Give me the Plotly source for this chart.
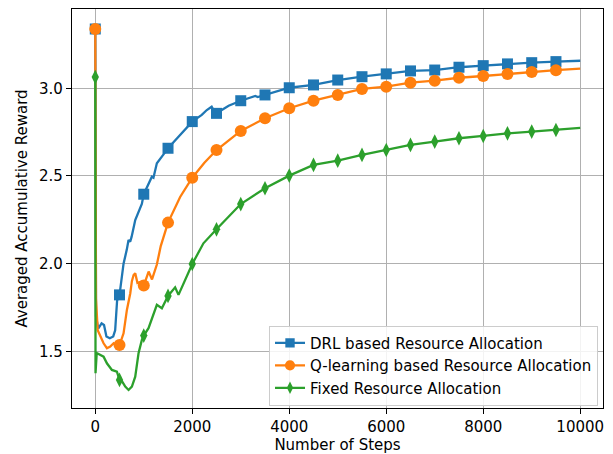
import plotly.graph_objects as go

# ---------------- data ----------------
drl_steps = [0, 15, 60, 130, 180, 230, 300, 370, 410, 450, 500, 583, 650, 686, 720, 750,
             824, 900, 960, 1000, 1100, 1167, 1200, 1270, 1400, 1500, 1716, 2000, 2196,
             2300, 2400, 2450, 2500, 2750, 3000, 3300, 3350, 3500, 4000, 4500, 5000, 5500,
             6000, 6500, 7000, 7500, 8000, 8500, 9000, 9500, 10000]
drl_vals = [3.338, 1.70, 1.63, 1.66, 1.65, 1.585, 1.575, 1.585, 1.62, 1.79, 1.822, 2.00, 2.08,
            2.135, 2.125, 2.154, 2.249, 2.306, 2.34, 2.396, 2.46, 2.496, 2.49, 2.572, 2.62,
            2.658, 2.724, 2.810, 2.848, 2.876, 2.895, 2.87, 2.857, 2.90, 2.929, 2.956, 2.95,
            2.962, 3.003, 3.019, 3.047, 3.066, 3.082, 3.099, 3.104, 3.120, 3.129, 3.139,
            3.146, 3.152, 3.157]

q_steps = [0, 15, 50, 103, 171, 240, 309, 377, 446, 500, 583, 652, 721, 755, 790, 824, 870,
           930, 1000, 1100, 1170, 1270, 1350, 1500, 1750, 2000, 2250, 2500, 3000, 3500,
           4000, 4500, 5000, 5500, 6000, 6500, 7000, 7500, 8000, 8500, 9000, 9500, 10000]
q_vals = [3.338, 1.80, 1.62, 1.584, 1.546, 1.518, 1.527, 1.546, 1.527, 1.536, 1.603, 1.736,
          1.83, 1.90, 1.935, 1.945, 1.89, 1.895, 1.875, 1.955, 1.91, 1.995, 2.10, 2.234,
          2.38, 2.490, 2.575, 2.648, 2.757, 2.829, 2.886, 2.929, 2.962, 2.996, 3.009, 3.032,
          3.043, 3.060, 3.070, 3.082, 3.093, 3.103, 3.112]

fixed_steps = [0, 5, 30, 103, 171, 240, 343, 446, 500, 550, 618, 686, 755, 824, 892, 961,
               1000, 1098, 1270, 1373, 1500, 1647, 1716, 2000, 2230, 2500, 2780, 3000, 3500,
               4000, 4500, 5000, 5500, 6000, 6500, 7000, 7500, 8000, 8500, 9000, 9500, 10000]
fixed_vals = [3.064, 1.375, 1.49, 1.479, 1.47, 1.432, 1.394, 1.384, 1.337, 1.33, 1.299, 1.28,
              1.299, 1.356, 1.489, 1.565, 1.59, 1.632, 1.765, 1.746, 1.816, 1.865, 1.822,
              1.998, 2.116, 2.196, 2.278, 2.34, 2.430, 2.502, 2.563, 2.587, 2.620, 2.648,
              2.677, 2.696, 2.715, 2.728, 2.743, 2.753, 2.762, 2.774]

marker_steps = list(range(0, 10000, 500))

x_ticks = [0, 2000, 4000, 6000, 8000, 10000]
x_tick_labels = ["0", "2000", "4000", "6000", "8000", "10000"]
y_ticks = [1.5, 2.0, 2.5, 3.0]
y_tick_labels = ["1.5", "2.0", "2.5", "3.0"]

series = [
    ("DRL based Resource Allocation", drl_steps, drl_vals, "#1f77b4", "square", 11),
    ("Q-learning based Resource Allocation", q_steps, q_vals, "#ff7f0e", "circle", 12),
    ("Fixed Resource Allocation", fixed_steps, fixed_vals, "#2ca02c", "diamond-tall", 10.5),
]

FONT = "DejaVu Sans, Verdana, sans-serif"
FS = 15
fig = go.Figure()

for name, xs, ys, color, sym, size in series:
    fig.add_trace(go.Scatter(x=xs, y=ys, mode="lines", line=dict(color=color, width=2.3),
                             showlegend=False, hoverinfo="skip"))
    mx = [s for s in xs if s in marker_steps]
    my = [v for s, v in zip(xs, ys) if s in marker_steps]
    fig.add_trace(go.Scatter(x=mx, y=my, mode="markers",
                             marker=dict(color=color, symbol=sym, size=size, line=dict(width=0)),
                             showlegend=False))
    fig.add_trace(go.Scatter(x=[None], y=[None], mode="lines+markers", name=name,
                             line=dict(color=color, width=2.3),
                             marker=dict(color=color, symbol=sym, size=size * 0.85)))

axis_common = dict(showline=True, linecolor="black", linewidth=1.2, mirror=True,
                   ticks="outside", ticklen=5, tickwidth=1.2, tickcolor="black",
                   showgrid=True, gridcolor="#b0b0b0", gridwidth=1.1, zeroline=False,
                   automargin=False,
                   tickfont=dict(family=FONT, size=FS, color="black"))

fig.update_xaxes(range=[-480, 10470], tickvals=x_ticks, ticktext=x_tick_labels,
                 title=dict(text="Number of Steps", font=dict(family=FONT, size=FS, color="black"),
                            standoff=2),
                 **axis_common)
fig.update_yaxes(range=[1.177, 3.452], tickvals=y_ticks, ticktext=y_tick_labels,
                 title=dict(text="Averaged Accumulative Reward",
                            font=dict(family=FONT, size=FS, color="black"), standoff=7),
                 **axis_common)

fig.update_layout(
    width=613, height=454,
    margin=dict(l=72, r=10, t=9, b=46),
    paper_bgcolor="white", plot_bgcolor="white",
    font=dict(family=FONT, size=FS, color="black"),
    legend=dict(x=0.9906, y=0.006, xanchor="right", yanchor="bottom",
                bgcolor="rgba(255,255,255,0.85)", bordercolor="#cccccc", borderwidth=1,
                font=dict(family=FONT, size=FS, color="black"), traceorder="normal"),
    showlegend=True,
)

fig.write_html("out.html")
